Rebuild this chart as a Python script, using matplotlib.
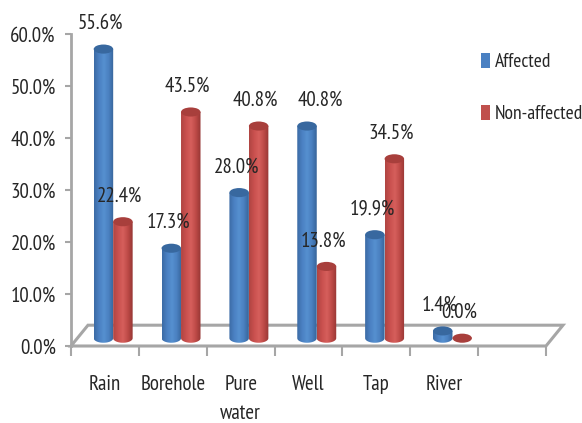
import numpy as np
import matplotlib
matplotlib.use("Agg")
import matplotlib.pyplot as plt
from matplotlib.colors import LinearSegmentedColormap
from matplotlib.patches import Polygon, Ellipse, Patch

plt.rcParams['font.family'] = ['PT Sans Narrow', 'Archivo Narrow', 'Liberation Sans', 'DejaVu Sans']

categories = ["Rain", "Borehole", "Pure\nwater", "Well", "Tap", "River"]
affected = [55.6, 17.3, 28.0, 40.8, 19.9, 1.4]
non_affected = [22.4, 43.5, 40.8, 13.8, 34.5, 0.0]
y_ticks = [0, 10, 20, 30, 40, 50, 60]

W, H = 582, 423
TEXT = "#262626"
GRID = "#a6a6a6"
FS = 15

fig = plt.figure(figsize=(W / 100, H / 100), dpi=100)
ax = fig.add_axes([71 / W, 1 - 346 / H, 475 / W, 312 / H])
ax.set_xlim(0, 7)
ax.set_ylim(0, 60)

# depth of the fake 3d floor, in data units
dx = 0.25
dy = 4.0
ax.add_patch(Polygon([(0, 0), (dx, dy), (7 + dx, dy), (7, 0)], closed=True,
                     facecolor="white", edgecolor=GRID, lw=2.2,
                     clip_on=False, zorder=1))

blue_map = LinearSegmentedColormap.from_list("b", ["#3b6ba5", "#4a80c2", "#5690d0", "#4a80c0", "#376499"])
red_map = LinearSegmentedColormap.from_list("r", ["#b04542", "#c9504e", "#d65f5c", "#bd4a47", "#963634"])
grad = np.linspace(0, 1, 64).reshape(1, -1)

base = 1.5      # bars stand a bit behind the front edge
width = 0.287
ell_h = 1.75


def cylinder(x, value, cmap, top_color):
    left = x - width / 2
    right = x + width / 2
    top = base + value
    if value > 0:
        t = np.linspace(np.pi, 2 * np.pi, 40)
        arc = np.column_stack([x + width / 2 * np.cos(t), base + ell_h / 2 * np.sin(t)])
        outline = np.vstack([[left, top], arc, [right, top]])
        shape = Polygon(outline, closed=True, facecolor="none", edgecolor="none",
                        transform=ax.transData)
        ax.add_patch(shape)
        im = ax.imshow(grad, cmap=cmap, extent=[left, right, base - ell_h, top],
                       aspect="auto", zorder=3)
        im.set_clip_path(shape)
    ax.add_patch(Ellipse((x, top), width, ell_h, facecolor=top_color,
                         edgecolor="none", zorder=3))


for i in range(len(categories)):
    cylinder(i + 0.478, affected[i], blue_map, "#38689f")
    cylinder(i + 0.765, non_affected[i], red_map, "#a83f3c")

ax.set_xlim(0, 7)
ax.set_ylim(0, 60)

# labels sit about 27 px above the top of each bar
for i in range(len(categories)):
    shift = 13 if categories[i] == "Well" else -3
    ax.annotate(f"{affected[i]:.1f}%", (i + 0.478, base + affected[i]),
                xytext=(shift * 0.72, 18.5), textcoords="offset points",
                ha="center", va="center", fontsize=FS, color=TEXT, zorder=5,
                annotation_clip=False)
    ax.annotate(f"{non_affected[i]:.1f}%", (i + 0.765, base + non_affected[i]),
                xytext=(-3 * 0.72, 18.5), textcoords="offset points",
                ha="center", va="center", fontsize=FS, color=TEXT, zorder=5,
                annotation_clip=False)

for side in ["top", "right", "bottom"]:
    ax.spines[side].set_visible(False)
ax.spines["left"].set_color(GRID)
ax.spines["left"].set_linewidth(2)
ax.patch.set_alpha(0)

ax.set_yticks(y_ticks)
ax.set_yticklabels([f"{v:.1f}%" for v in y_ticks], fontsize=FS, color=TEXT)
ax.tick_params(axis="y", length=4, width=1.5, color=GRID, pad=7)

ax.set_xticks(np.arange(8))
ax.set_xticklabels([])
ax.set_xticks(np.arange(6) + 0.5, labels=categories, minor=True, fontsize=FS,
              color=TEXT, linespacing=1.65)
ax.tick_params(axis="x", which="major", length=7, width=1.5, color=GRID)
ax.tick_params(axis="x", which="minor", length=0, pad=21)

handles = [Patch(facecolor="#4a80c2", edgecolor="none"),
           Patch(facecolor="#c0504d", edgecolor="none")]
fig.legend(handles, ["Affected", "Non-affected"], loc="upper left",
           bbox_to_anchor=(481 / W, 1 - 53 / H), frameon=False, fontsize=14,
           borderpad=0, borderaxespad=0, labelspacing=1.75, handlelength=0.47,
           handleheight=0.78, handletextpad=0.26, labelcolor=TEXT)

fig.savefig("out.png", dpi=100)
